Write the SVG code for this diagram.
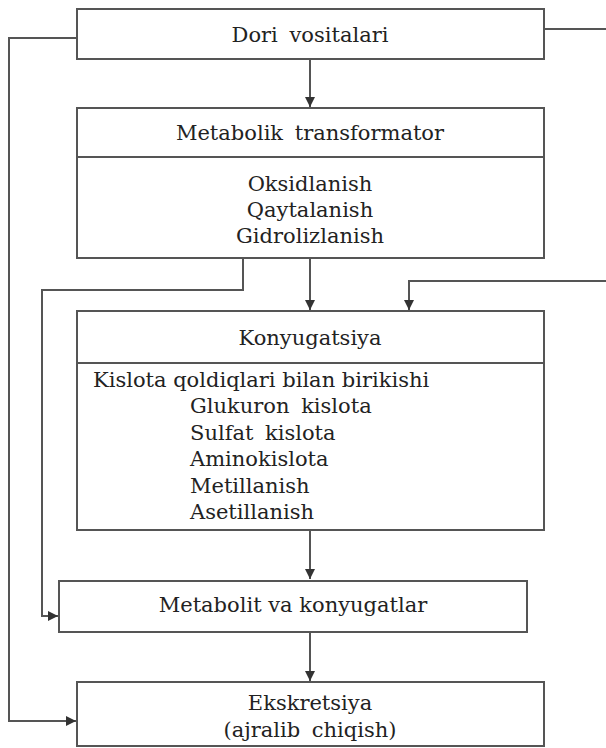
<svg xmlns="http://www.w3.org/2000/svg" width="606" height="748" viewBox="0 0 606 748">
<style>
.box{fill:#fff;stroke:#555;stroke-width:2}
.ln{fill:none;stroke:#555;stroke-width:2}
text{font-family:'DejaVu Serif','Liberation Serif',serif;font-size:21px;fill:#222}
.c{text-anchor:middle}
.w{word-spacing:5px}
</style>
<defs>
<marker id="ah" viewBox="0 0 10 10" refX="10" refY="5" markerWidth="5" markerHeight="5" orient="auto" markerUnits="strokeWidth">
<path d="M0,0 L10,5 L0,10 z" fill="#333"/>
</marker>
</defs>
<g id="connectors">
<path class="ln" d="M77,38 H9 V721 H76" marker-end="url(#ah)"/>
<path class="ln" d="M544,29 H606"/>
<path class="ln" d="M310,59 V107" marker-end="url(#ah)"/>
<path class="ln" d="M243,258 V290 H42 V616 H58" marker-end="url(#ah)"/>
<path class="ln" d="M310,258 V310" marker-end="url(#ah)"/>
<path class="ln" d="M606,281 H409 V310" marker-end="url(#ah)"/>
<path class="ln" d="M310,530 V579" marker-end="url(#ah)"/>
<path class="ln" d="M310,632 V681" marker-end="url(#ah)"/>
</g>
<g id="dori">
<rect class="box" x="77" y="9" width="467" height="50"/>
<text class="c w" x="310" y="42">Dori vositalari</text>
</g>
<g id="metabolik">
<rect class="box" x="77" y="108" width="467" height="150"/>
<line class="ln" x1="77" y1="157" x2="544" y2="157"/>
<text class="c w" x="310" y="140">Metabolik transformator</text>
<text class="c" x="310" y="191">Oksidlanish</text>
<text class="c" x="310" y="217">Qaytalanish</text>
<text class="c" x="310" y="243">Gidrolizlanish</text>
</g>
<g id="konyugatsiya">
<rect class="box" x="77" y="311" width="467" height="219"/>
<line class="ln" x1="77" y1="363" x2="544" y2="363"/>
<text class="c" x="310" y="345">Konyugatsiya</text>
<text x="93" y="387">Kislota qoldiqlari bilan birikishi</text>
<text class="w" x="190" y="413">Glukuron kislota</text>
<text class="w" x="190" y="440">Sulfat kislota</text>
<text x="190" y="466">Aminokislota</text>
<text x="190" y="493">Metillanish</text>
<text x="190" y="519">Asetillanish</text>
</g>
<g id="metabolit">
<rect class="box" x="59" y="581" width="468" height="51"/>
<text class="c" x="293" y="612">Metabolit va konyugatlar</text>
</g>
<g id="ekskretsiya">
<rect class="box" x="77" y="682" width="467" height="64"/>
<text class="c" x="310" y="710">Ekskretsiya</text>
<text class="c w" x="310" y="737">(ajralib chiqish)</text>
</g>
</svg>
